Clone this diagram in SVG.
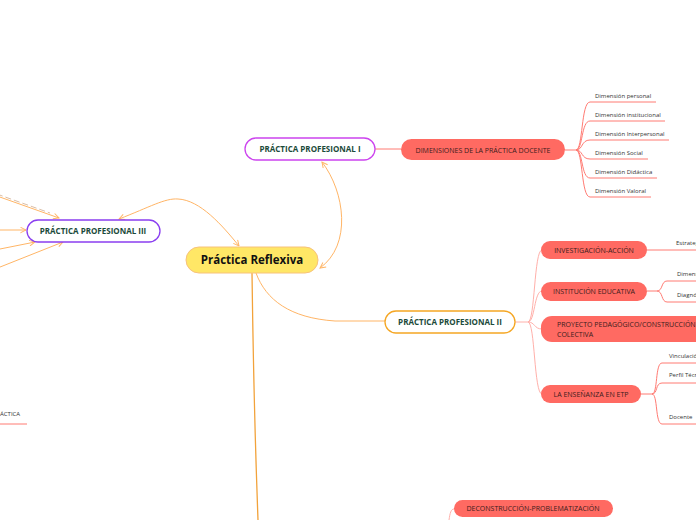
<svg xmlns="http://www.w3.org/2000/svg" width="696" height="520" viewBox="0 0 696 520">
<defs>
<style>
.t{font-family:"Open Sans","Liberation Sans",sans-serif}
.pp{fill:#fff;stroke-width:1.3}
.ppt{font-size:8px;font-weight:bold;fill:#1b4a3a;text-anchor:middle}
.red{fill:#ff6a62}
.rt{font-size:7px;fill:#3a1c1c;text-anchor:middle}
.leaf{font-size:6px;fill:#333}
.or{fill:none;stroke:#ffb566;stroke-width:1}
.sal{fill:none;stroke:#ff7b73;stroke-width:1}
.pink{fill:none;stroke:#ffb0aa;stroke-width:1}
</style>
<marker id="ar" viewBox="0 0 10 10" refX="9" refY="5" markerWidth="7" markerHeight="7" orient="auto-start-reverse" markerUnits="userSpaceOnUse">
<path d="M1,1 L9,5 L1,9" fill="none" stroke="#ffb566" stroke-width="1.4"/>
</marker>
</defs>
<rect width="696" height="520" fill="#fff"/>
<g id="connectors">
<path class="or" d="M322,162 C345,192 352,245 320,268" marker-start="url(#ar)" marker-end="url(#ar)"/>
<path class="or" d="M119,219 C150,207 165,198 178,199 C200,200 222,225 239,246" marker-start="url(#ar)" marker-end="url(#ar)"/>
<path class="or" d="M-20,190 L59,218" marker-end="url(#ar)"/>
<path d="M-20,188 L50,213" fill="none" stroke="#c8a080" stroke-width="0.7" stroke-dasharray="6,3"/>
<path class="or" d="M-20,230 L26,230" marker-end="url(#ar)"/>
<path class="or" d="M-20,253 L35,242" marker-end="url(#ar)"/>
<path class="or" d="M-20,275 L63,242" marker-end="url(#ar)"/>
<path class="or" d="M256,273 C266,300 290,318 335,321 L385,321"/>
<path fill="none" stroke="#f2a23a" stroke-width="1.3" d="M252,273 C253,350 255,440 258,520"/>
<path class="sal" d="M375,149 L401,149"/>
<path class="sal" d="M565,150 L576,150"/>
<path class="sal" d="M576,150 C583,150 581,102 590,102 L656,102"/>
<path class="sal" d="M576,150 C583,150 581,121 590,121 L665,121"/>
<path class="sal" d="M576,150 C583,150 581,140 590,140 L669,140"/>
<path class="sal" d="M576,150 C583,150 581,159 590,159 L648,159"/>
<path class="sal" d="M576,150 C583,150 581,178 590,178 L657,178"/>
<path class="sal" d="M576,150 C583,150 581,197 590,197 L651,197"/>
<path class="pink" d="M515,322 L528,322"/>
<path class="pink" d="M528,322 C535,322 534,250 542,250"/>
<path class="pink" d="M528,322 C535,322 534,291 542,291"/>
<path class="pink" d="M528,322 C535,322 534,329 542,329"/>
<path class="pink" d="M528,322 C535,322 534,394 542,394"/>
<path class="sal" d="M647,250 L660,250 L696,250"/>
<path class="sal" d="M647,291 L657,291 C663,291 661,281 667,281 L696,281"/>
<path class="sal" d="M657,291 C663,291 661,302 667,302 L696,302"/>
<path class="sal" d="M641,394 L652,394"/>
<path class="sal" d="M652,394 C658,394 655,363 662,363 L696,363"/>
<path class="sal" d="M652,394 C658,394 655,383 662,383 L696,383"/>
<path class="sal" d="M652,394 C658,394 655,424 662,424 L696,424"/>
<path class="pink" d="M449,520 C450,513 451,509 454,509"/>
<path class="sal" d="M0,424 L27,424"/>
</g>
<g id="central">
<rect x="186" y="247" width="132" height="26" rx="13" fill="#ffe766" stroke="#f7c27b" stroke-width="1"/>
<text class="t" x="252" y="264" font-size="11.5" font-weight="bold" fill="#111" text-anchor="middle">Práctica Reflexiva</text>
</g>
<g id="pp1">
<rect class="pp" x="245" y="138" width="130" height="22" rx="11" stroke="#cc44ee"/>
<text class="t ppt" x="310" y="152">PRÁCTICA PROFESIONAL I</text>
</g>
<g id="pp3">
<rect class="pp" x="27" y="220" width="133" height="22" rx="11" stroke="#8a3ef0"/>
<text class="t ppt" x="93" y="234">PRÁCTICA PROFESIONAL III</text>
</g>
<g id="pp2">
<rect class="pp" x="385" y="311" width="130" height="22" rx="11" stroke="#f5a623"/>
<text class="t ppt" x="450" y="325">PRÁCTICA PROFESIONAL II</text>
</g>
<g id="dimensiones">
<rect class="red" x="401" y="139" width="164" height="21" rx="10.5"/>
<text class="t rt" x="483" y="152.5">DIMENSIONES DE LA PRÁCTICA DOCENTE</text>
</g>
<g id="dim-items">
<text class="t leaf" x="595" y="98">Dimensión personal</text>
<text class="t leaf" x="595" y="117">Dimensión institucional</text>
<text class="t leaf" x="595" y="136">Dimensión Interpersonal</text>
<text class="t leaf" x="595" y="155">Dimensión Social</text>
<text class="t leaf" x="595" y="174">Dimensión Didáctica</text>
<text class="t leaf" x="595" y="193">Dimensión Valoral</text>
</g>
<g id="investigacion">
<rect class="red" x="541" y="241" width="106" height="18" rx="9"/>
<text class="t rt" x="594" y="252.5">INVESTIGACIÓN-ACCIÓN</text>
</g>
<g id="institucion">
<rect class="red" x="541" y="282" width="106" height="19" rx="9.5"/>
<text class="t rt" x="594" y="294">INSTITUCIÓN EDUCATIVA</text>
</g>
<g id="proyecto">
<rect class="red" x="541" y="316" width="170" height="26" rx="11"/>
<text class="t rt" x="557" y="327" text-anchor="start" style="text-anchor:start">PROYECTO PEDAGÓGICO/CONSTRUCCIÓN</text>
<text class="t rt" x="557" y="337" style="text-anchor:start">COLECTIVA</text>
</g>
<g id="ensenanza">
<rect class="red" x="541" y="385" width="100" height="18" rx="9"/>
<text class="t rt" x="591" y="396.5">LA ENSEÑANZA EN ETP</text>
</g>
<g id="deconstruccion">
<rect class="red" x="454" y="500" width="159" height="17" rx="8.5"/>
<text class="t rt" x="533" y="511">DECONSTRUCCIÓN-PROBLEMATIZACIÓN</text>
</g>
<g id="leaves-right">
<text class="t leaf" x="676" y="245">Estrategias</text>
<text class="t leaf" x="677" y="276">Dimensión</text>
<text class="t leaf" x="677" y="297">Diagnóstico</text>
<text class="t leaf" x="669" y="358">Vinculación</text>
<text class="t leaf" x="669" y="377">Perfil Técnico</text>
<text class="t leaf" x="669" y="419">Docente</text>
</g>
<g id="leaf-left">
<text class="t leaf" x="0" y="416">ÁCTICA</text>
</g>
</svg>
